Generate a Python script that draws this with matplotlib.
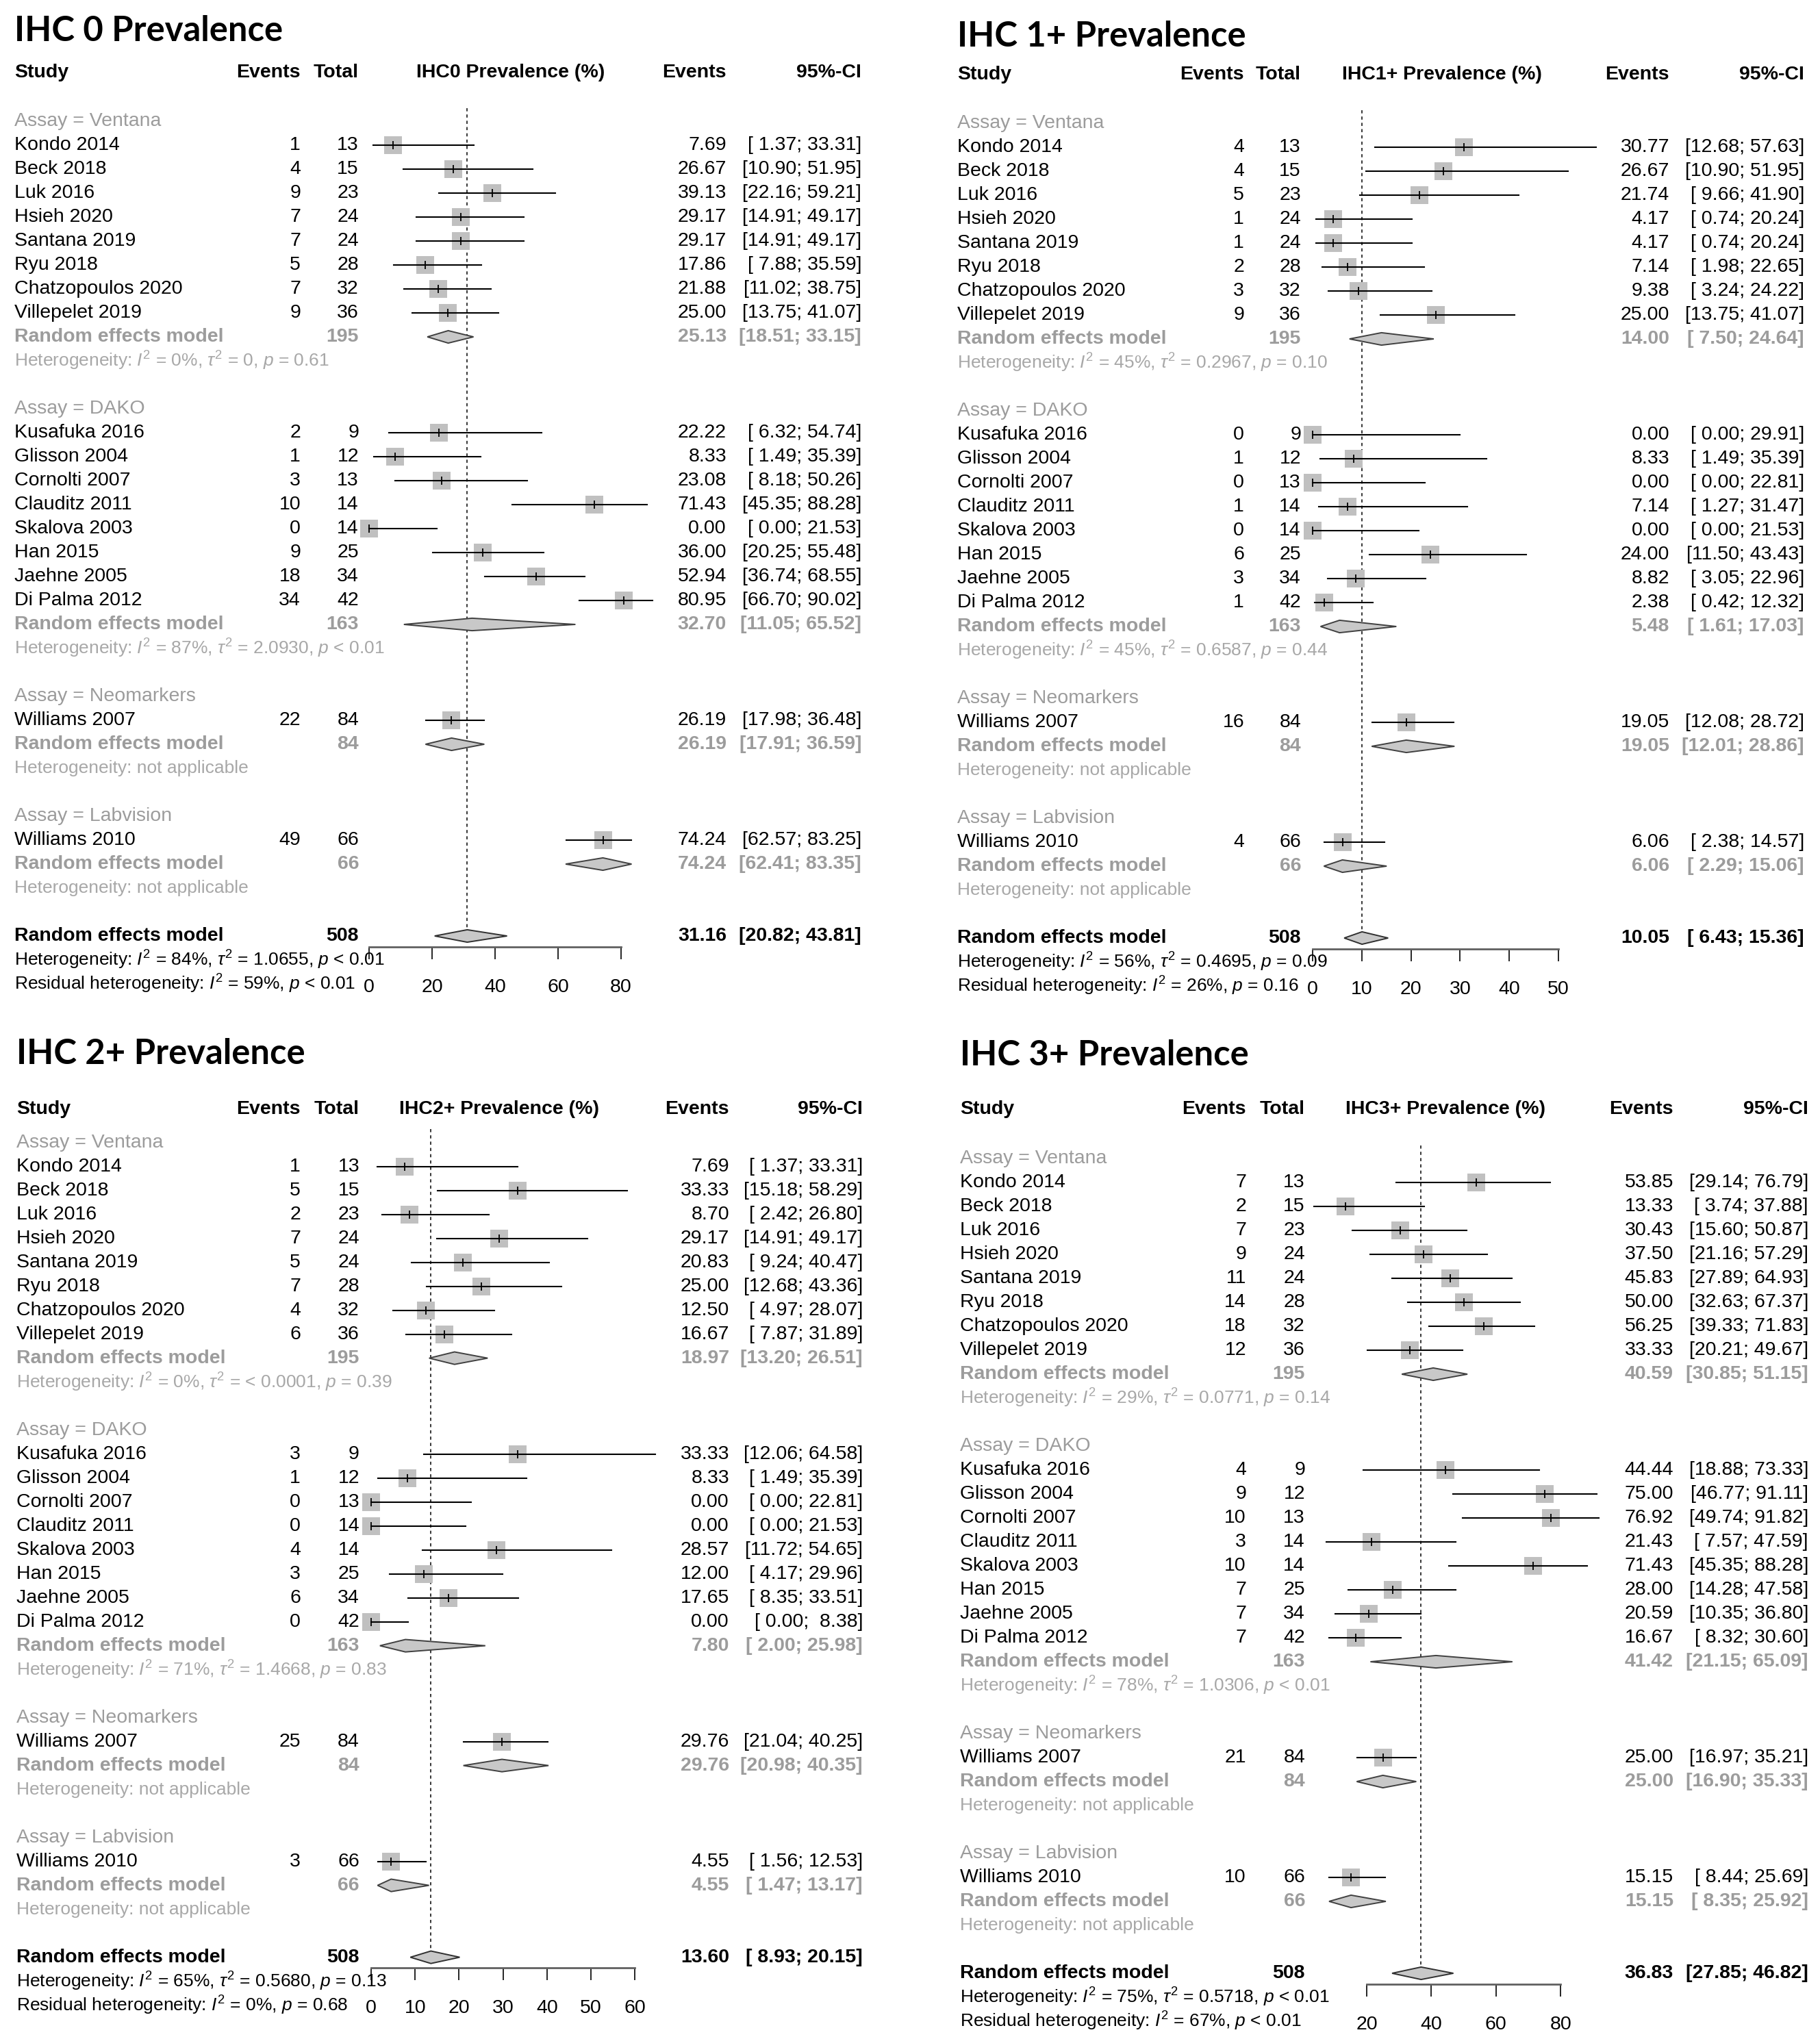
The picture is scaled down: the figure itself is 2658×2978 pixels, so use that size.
"""Four subgroup forest plots of HER2 IHC score prevalence."""
import matplotlib

matplotlib.use("Agg")
import matplotlib.pyplot as plt
import matplotlib.transforms as mtransforms

W, H = 2658, 2978

plt.rcParams["font.family"] = ["Liberation Sans", "DejaVu Sans"]
plt.rcParams["mathtext.fontset"] = "custom"
plt.rcParams["mathtext.rm"] = "Liberation Sans"
plt.rcParams["mathtext.it"] = "Liberation Sans:italic"
plt.rcParams["mathtext.bf"] = "Liberation Sans:bold"

# ---- studies, grouped by assay -------------------------------------------
ASSAYS = ["Ventana", "DAKO", "Neomarkers", "Labvision"]
STUDIES = [
    ["Kondo 2014", "Beck 2018", "Luk 2016", "Hsieh 2020", "Santana 2019",
     "Ryu 2018", "Chatzopoulos 2020", "Villepelet 2019"],
    ["Kusafuka 2016", "Glisson 2004", "Cornolti 2007", "Clauditz 2011",
     "Skalova 2003", "Han 2015", "Jaehne 2005", "Di Palma 2012"],
    ["Williams 2007"],
    ["Williams 2010"],
]
TOTALS = [
    [13, 15, 23, 24, 24, 28, 32, 36],
    [9, 12, 13, 14, 14, 25, 34, 42],
    [84],
    [66],
]

# ---- IHC 0 ----------------------------------------------------------------
IHC0_EVENTS = [1, 4, 9, 7, 7, 5, 7, 9, 2, 1, 3, 10, 0, 9, 18, 34, 22, 49]
IHC0_PREV = [7.69, 26.67, 39.13, 29.17, 29.17, 17.86, 21.88, 25.00,
             22.22, 8.33, 23.08, 71.43, 0.00, 36.00, 52.94, 80.95, 26.19, 74.24]
IHC0_LOWER = [1.37, 10.90, 22.16, 14.91, 14.91, 7.88, 11.02, 13.75,
              6.32, 1.49, 8.18, 45.35, 0.00, 20.25, 36.74, 66.70, 17.98, 62.57]
IHC0_UPPER = [33.31, 51.95, 59.21, 49.17, 49.17, 35.59, 38.75, 41.07,
              54.74, 35.39, 50.26, 88.28, 21.53, 55.48, 68.55, 90.02, 36.48, 83.25]
IHC0_SUB_PREV = [25.13, 32.70, 26.19, 74.24]
IHC0_SUB_LOWER = [18.51, 11.05, 17.91, 62.41]
IHC0_SUB_UPPER = [33.15, 65.52, 36.59, 83.35]
IHC0_SUB_I2 = [0, 87, None, None]
IHC0_SUB_TAU2 = ["0", "2.0930", None, None]
IHC0_SUB_P = ["= 0.61", "< 0.01", None, None]
IHC0_OVERALL = [31.16, 20.82, 43.81]
IHC0_HET = [84, "1.0655", "< 0.01"]
IHC0_RESID = [59, "< 0.01"]

# ---- IHC 1+ ---------------------------------------------------------------
IHC1_EVENTS = [4, 4, 5, 1, 1, 2, 3, 9, 0, 1, 0, 1, 0, 6, 3, 1, 16, 4]
IHC1_PREV = [30.77, 26.67, 21.74, 4.17, 4.17, 7.14, 9.38, 25.00,
             0.00, 8.33, 0.00, 7.14, 0.00, 24.00, 8.82, 2.38, 19.05, 6.06]
IHC1_LOWER = [12.68, 10.90, 9.66, 0.74, 0.74, 1.98, 3.24, 13.75,
              0.00, 1.49, 0.00, 1.27, 0.00, 11.50, 3.05, 0.42, 12.08, 2.38]
IHC1_UPPER = [57.63, 51.95, 41.90, 20.24, 20.24, 22.65, 24.22, 41.07,
              29.91, 35.39, 22.81, 31.47, 21.53, 43.43, 22.96, 12.32, 28.72, 14.57]
IHC1_SUB_PREV = [14.00, 5.48, 19.05, 6.06]
IHC1_SUB_LOWER = [7.50, 1.61, 12.01, 2.29]
IHC1_SUB_UPPER = [24.64, 17.03, 28.86, 15.06]
IHC1_SUB_I2 = [45, 45, None, None]
IHC1_SUB_TAU2 = ["0.2967", "0.6587", None, None]
IHC1_SUB_P = ["= 0.10", "= 0.44", None, None]
IHC1_OVERALL = [10.05, 6.43, 15.36]
IHC1_HET = [56, "0.4695", "= 0.09"]
IHC1_RESID = [26, "= 0.16"]

# ---- IHC 2+ ---------------------------------------------------------------
IHC2_EVENTS = [1, 5, 2, 7, 5, 7, 4, 6, 3, 1, 0, 0, 4, 3, 6, 0, 25, 3]
IHC2_PREV = [7.69, 33.33, 8.70, 29.17, 20.83, 25.00, 12.50, 16.67,
             33.33, 8.33, 0.00, 0.00, 28.57, 12.00, 17.65, 0.00, 29.76, 4.55]
IHC2_LOWER = [1.37, 15.18, 2.42, 14.91, 9.24, 12.68, 4.97, 7.87,
              12.06, 1.49, 0.00, 0.00, 11.72, 4.17, 8.35, 0.00, 21.04, 1.56]
IHC2_UPPER = [33.31, 58.29, 26.80, 49.17, 40.47, 43.36, 28.07, 31.89,
              64.58, 35.39, 22.81, 21.53, 54.65, 29.96, 33.51, 8.38, 40.25, 12.53]
IHC2_SUB_PREV = [18.97, 7.80, 29.76, 4.55]
IHC2_SUB_LOWER = [13.20, 2.00, 20.98, 1.47]
IHC2_SUB_UPPER = [26.51, 25.98, 40.35, 13.17]
IHC2_SUB_I2 = [0, 71, None, None]
IHC2_SUB_TAU2 = ["< 0.0001", "1.4668", None, None]
IHC2_SUB_P = ["= 0.39", "= 0.83", None, None]
IHC2_OVERALL = [13.60, 8.93, 20.15]
IHC2_HET = [65, "0.5680", "= 0.13"]
IHC2_RESID = [0, "= 0.68"]

# ---- IHC 3+ ---------------------------------------------------------------
IHC3_EVENTS = [7, 2, 7, 9, 11, 14, 18, 12, 4, 9, 10, 3, 10, 7, 7, 7, 21, 10]
IHC3_PREV = [53.85, 13.33, 30.43, 37.50, 45.83, 50.00, 56.25, 33.33,
             44.44, 75.00, 76.92, 21.43, 71.43, 28.00, 20.59, 16.67, 25.00, 15.15]
IHC3_LOWER = [29.14, 3.74, 15.60, 21.16, 27.89, 32.63, 39.33, 20.21,
              18.88, 46.77, 49.74, 7.57, 45.35, 14.28, 10.35, 8.32, 16.97, 8.44]
IHC3_UPPER = [76.79, 37.88, 50.87, 57.29, 64.93, 67.37, 71.83, 49.67,
              73.33, 91.11, 91.82, 47.59, 88.28, 47.58, 36.80, 30.60, 35.21, 25.69]
IHC3_SUB_PREV = [40.59, 41.42, 25.00, 15.15]
IHC3_SUB_LOWER = [30.85, 21.15, 16.90, 8.35]
IHC3_SUB_UPPER = [51.15, 65.09, 35.33, 25.92]
IHC3_SUB_I2 = [29, 78, None, None]
IHC3_SUB_TAU2 = ["0.0771", "1.0306", None, None]
IHC3_SUB_P = ["= 0.14", "< 0.01", None, None]
IHC3_OVERALL = [36.83, 27.85, 46.82]
IHC3_HET = [75, "0.5718", "< 0.01"]
IHC3_RESID = [67, "< 0.01"]

# ---- styling --------------------------------------------------------------
FS = 20.5
FS_HET = 19
GREY = "#9c9c9c"
GREY_HET = "#a8a8a8"
BOX = "#c0c0c0"
DIAMOND = "#c8c8c8"


def het_text(i2, tau2, p):
    return rf"Heterogeneity: $I^2$ = {i2}%, $\tau^2$ = {tau2}, $p$ {p}"


def draw_panel(fig, lay, title, label, events, prev, lower, upper,
               sub_prev, sub_lower, sub_upper, sub_i2, sub_tau2, sub_p,
               overall, het, resid, ticks):
    row0, dy = lay["row0"], lay["dy"]
    x0, sx = lay["x0"], lay["sx"]
    xmin, xmax = ticks[0], ticks[-1]
    k_top, k_axis = -1.0, 34.45
    left, right = x0 + xmin * sx, x0 + xmax * sx
    top, bottom = row0 + k_top * dy, row0 + k_axis * dy
    ax = fig.add_axes([left / W, 1 - bottom / H, (right - left) / W, (bottom - top) / H])
    ax.set_xlim(xmin, xmax)
    ax.set_ylim(k_axis, k_top)
    ax.patch.set_alpha(0)
    for side in ("top", "left", "right"):
        ax.spines[side].set_visible(False)
    ax.spines["bottom"].set_color("#606060")
    ax.spines["bottom"].set_linewidth(2.0)
    ax.set_yticks([])
    ax.set_xticks(ticks)
    ax.tick_params(axis="x", length=13, width=1.2, color="black", pad=20, labelsize=FS)

    tr = mtransforms.blended_transform_factory(fig.transFigure, ax.transData)

    def put(px, k, s, ha="left", **kw):
        kw.setdefault("fontsize", FS)
        ax.text(px / W, k, s, transform=tr, ha=ha, va="center", **kw)

    fig.text(lay["title_x"] / W, 1 - lay["title_y"] / H, title, family=["Lato", "DejaVu Sans"],
             weight="bold", fontsize=36.5, va="center", ha="left")

    kh = (lay["header_y"] - row0) / dy
    put(lay["study"], kh, "Study", weight="bold")
    put(lay["events"], kh, "Events", ha="right", weight="bold")
    put(lay["total"], kh, "Total", ha="right", weight="bold")
    put(lay["hdr"], kh, label, ha="center", weight="bold")
    put(lay["est"], kh, "Events", ha="right", weight="bold")
    put(lay["ci"], kh, "95%-CI", ha="right", weight="bold")

    k = 0
    i = 0
    for g, assay in enumerate(ASSAYS):
        put(lay["study"], k, f"Assay = {assay}", color=GREY)
        k += 1
        for name, total in zip(STUDIES[g], TOTALS[g]):
            put(lay["study"], k, name)
            put(lay["events"], k, str(events[i]), ha="right")
            put(lay["total"], k, str(total), ha="right")
            put(lay["est"], k, f"{prev[i]:.2f}", ha="right")
            put(lay["ci"], k, f"[{lower[i]:5.2f}; {upper[i]:5.2f}]", ha="right")
            ax.scatter([prev[i]], [k], s=370, marker="s", color=BOX, linewidths=0,
                       zorder=2, clip_on=False)
            ax.plot([lower[i], upper[i]], [k, k], color="black", lw=1.5, zorder=3,
                    clip_on=False)
            ax.plot([prev[i]], [k], marker="|", ms=9, mew=1.3, color="black", zorder=4,
                    clip_on=False)
            k += 1
            i += 1
        put(lay["study"], k, "Random effects model", color=GREY, weight="bold")
        put(lay["total"], k, str(sum(TOTALS[g])), ha="right", color=GREY, weight="bold")
        put(lay["est"], k, f"{sub_prev[g]:.2f}", ha="right", color=GREY, weight="bold")
        put(lay["ci"], k, f"[{sub_lower[g]:5.2f}; {sub_upper[g]:5.2f}]", ha="right",
            color=GREY, weight="bold")
        ax.fill([sub_lower[g], sub_prev[g], sub_upper[g], sub_prev[g]],
                [k, k - 0.26, k, k + 0.26], facecolor=DIAMOND, edgecolor="#404040",
                lw=1.4, zorder=3, clip_on=False)
        k += 1
        if sub_i2[g] is None:
            txt = "Heterogeneity: not applicable"
        else:
            txt = het_text(sub_i2[g], sub_tau2[g], sub_p[g])
        put(lay["study"], k, txt, color=GREY_HET, fontsize=FS_HET)
        k += 2

    # overall pooled estimate
    est, lo, hi = overall
    put(lay["study"], k, "Random effects model", weight="bold")
    put(lay["total"], k, str(sum(sum(t) for t in TOTALS)), ha="right", weight="bold")
    put(lay["est"], k, f"{est:.2f}", ha="right", weight="bold")
    put(lay["ci"], k, f"[{lo:5.2f}; {hi:5.2f}]", ha="right", weight="bold")
    ax.fill([lo, est, hi, est], [k, k - 0.26, k, k + 0.26], facecolor=DIAMOND,
            edgecolor="#303030", lw=1.4, zorder=3, clip_on=False)
    ax.vlines(est, -0.55, k - 0.26, colors="black", linestyles=(0, (3, 3)), lw=1.1,
              zorder=1, clip_on=False)
    put(lay["study"], k + 1, het_text(*het), fontsize=FS_HET)
    put(lay["study"], k + 2,
        rf"Residual heterogeneity: $I^2$ = {resid[0]}%, $p$ {resid[1]}", fontsize=FS_HET)
    return ax


LAYOUTS = [
    dict(title_x=21, title_y=46, header_y=106, row0=177, dy=35.0, study=21, events=439,
         total=524, hdr=746, est=1061, ci=1258, x0=539, sx=4.60),
    dict(title_x=1398, title_y=54, header_y=109, row0=180, dy=35.0, study=1398, events=1817,
         total=1900, hdr=2106, est=2438, ci=2635, x0=1917, sx=7.18),
    dict(title_x=24, title_y=1540, header_y=1620, row0=1668.6, dy=35.0, study=24, events=439,
         total=525, hdr=729, est=1065, ci=1260, x0=542, sx=6.42),
    dict(title_x=1402, title_y=1542, header_y=1620, row0=1692, dy=35.0, study=1402,
         events=1820, total=1906, hdr=2111, est=2444, ci=2641, x0=1901.6, sx=4.72),
]

fig = plt.figure(figsize=(W / 100, H / 100), dpi=100)
fig.patch.set_facecolor("white")

draw_panel(fig, LAYOUTS[0], "IHC 0 Prevalence", "IHC0 Prevalence (%)",
           IHC0_EVENTS, IHC0_PREV, IHC0_LOWER, IHC0_UPPER,
           IHC0_SUB_PREV, IHC0_SUB_LOWER, IHC0_SUB_UPPER,
           IHC0_SUB_I2, IHC0_SUB_TAU2, IHC0_SUB_P,
           IHC0_OVERALL, IHC0_HET, IHC0_RESID, [0, 20, 40, 60, 80])
draw_panel(fig, LAYOUTS[1], "IHC 1+ Prevalence", "IHC1+ Prevalence (%)",
           IHC1_EVENTS, IHC1_PREV, IHC1_LOWER, IHC1_UPPER,
           IHC1_SUB_PREV, IHC1_SUB_LOWER, IHC1_SUB_UPPER,
           IHC1_SUB_I2, IHC1_SUB_TAU2, IHC1_SUB_P,
           IHC1_OVERALL, IHC1_HET, IHC1_RESID, [0, 10, 20, 30, 40, 50])
draw_panel(fig, LAYOUTS[2], "IHC 2+ Prevalence", "IHC2+ Prevalence (%)",
           IHC2_EVENTS, IHC2_PREV, IHC2_LOWER, IHC2_UPPER,
           IHC2_SUB_PREV, IHC2_SUB_LOWER, IHC2_SUB_UPPER,
           IHC2_SUB_I2, IHC2_SUB_TAU2, IHC2_SUB_P,
           IHC2_OVERALL, IHC2_HET, IHC2_RESID, [0, 10, 20, 30, 40, 50, 60])
draw_panel(fig, LAYOUTS[3], "IHC 3+ Prevalence", "IHC3+ Prevalence (%)",
           IHC3_EVENTS, IHC3_PREV, IHC3_LOWER, IHC3_UPPER,
           IHC3_SUB_PREV, IHC3_SUB_LOWER, IHC3_SUB_UPPER,
           IHC3_SUB_I2, IHC3_SUB_TAU2, IHC3_SUB_P,
           IHC3_OVERALL, IHC3_HET, IHC3_RESID, [20, 40, 60, 80])

fig.savefig("out.png", dpi=100, facecolor="white")
